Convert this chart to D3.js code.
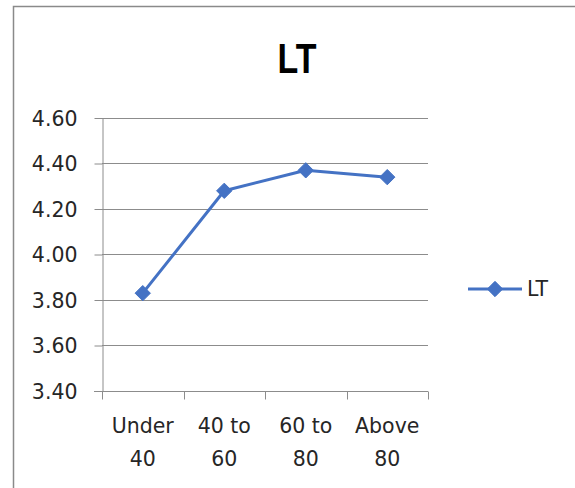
<!DOCTYPE html>
<html>
<head>
<meta charset="utf-8">
<script src="https://cdn.jsdelivr.net/npm/d3@7"></script>
<style>
  html, body { margin: 0; padding: 0; background: #fff; }
  svg { display: block; }
  text { font-family: "DejaVu Sans", sans-serif; fill: #262626; }
</style>
</head>
<body>
<svg id="chart" width="575" height="488"></svg>
<script>
// Age groups and the mean LT score for each
const categories = ["Under 40", "40 to 60", "60 to 80", "Above 80"];
const categoryLines = [["Under", "40"], ["40 to", "60"], ["60 to", "80"], ["Above", "80"]];
const ltValues = [3.83, 4.28, 4.37, 4.34];
const yTicks = [3.40, 3.60, 3.80, 4.00, 4.20, 4.40, 4.60];
const seriesName = "LT";
const chartTitle = "LT";

const svg = d3.select("#chart");
const W = 575, H = 488;
const blue = "#4472C4";
const gridColor = "#8c8c8c";

// Outer chart frame
svg.append("rect")
  .attr("x", 13.5).attr("y", 6.5)
  .attr("width", W).attr("height", H)
  .attr("fill", "none").attr("stroke", "#8a8a8a").attr("stroke-width", 1.5);

// Plot area
const plot = { left: 102, right: 428, top: 118, bottom: 391 };

const x = d3.scaleBand().domain(categories).range([plot.left, plot.right]).paddingInner(0).paddingOuter(0);
const y = d3.scaleLinear().domain([3.4, 4.6]).range([plot.bottom, plot.top]);

// Title
svg.append("text")
  .attr("x", 297).attr("y", 73)
  .attr("text-anchor", "middle")
  .attr("font-family", "Liberation Sans, Arial, sans-serif")
  .style("font-family", "'Liberation Sans', Arial, sans-serif")
  .attr("font-weight", "bold")
  .attr("font-size", 42)
  .attr("textLength", 39)
  .attr("lengthAdjust", "spacingAndGlyphs")
  .style("fill", "#000")
  .text(chartTitle);

// Horizontal gridlines
svg.append("g")
  .selectAll("line")
  .data(yTicks.slice(1))
  .join("line")
  .attr("x1", plot.left).attr("x2", plot.right)
  .attr("y1", d => Math.round(y(d)) + 0.5).attr("y2", d => Math.round(y(d)) + 0.5)
  .attr("stroke", gridColor).attr("stroke-width", 1);

// Y axis
const yAxis = svg.append("g")
  .attr("transform", `translate(${plot.left + 0.5},0)`)
  .call(d3.axisLeft(y).tickValues(yTicks).tickFormat(d3.format(".2f")).tickSizeInner(8).tickSizeOuter(0).tickPadding(17));
yAxis.select(".domain").attr("stroke", gridColor);
yAxis.selectAll(".tick line").attr("stroke", gridColor);
yAxis.selectAll(".tick text")
  .attr("font-size", 20.5)
  .style("font-family", "'DejaVu Sans', sans-serif")
  .attr("fill", "#262626")
  .attr("dy", "0.36em");

// X axis with tick marks at the category boundaries
const xAxisG = svg.append("g").attr("transform", `translate(0,${plot.bottom + 0.5})`);
xAxisG.append("line")
  .attr("x1", plot.left - 8).attr("x2", plot.right)
  .attr("stroke", gridColor);
const boundaries = categories.map(c => x(c)).concat([x(categories[categories.length - 1]) + x.bandwidth()]);
xAxisG.selectAll("line.tk")
  .data(boundaries)
  .join("line")
  .attr("class", "tk")
  .attr("x1", d => Math.round(d) + 0.5).attr("x2", d => Math.round(d) + 0.5)
  .attr("y1", 0).attr("y2", 8)
  .attr("stroke", gridColor);

// Category labels (two lines each)
const catLabels = svg.append("g")
  .selectAll("text")
  .data(categories)
  .join("text")
  .attr("text-anchor", "middle")
  .attr("font-size", 20.5)
  .attr("x", d => x(d) + x.bandwidth() / 2);
catLabels.each(function(d, i) {
  const t = d3.select(this);
  categoryLines[i].forEach((line, j) => {
    t.append("tspan")
      .attr("x", x(d) + x.bandwidth() / 2)
      .attr("y", 433 + j * 33)
      .text(line);
  });
});

// Series line
const line = d3.line()
  .x((d, i) => x(categories[i]) + x.bandwidth() / 2)
  .y(d => y(d));
svg.append("path")
  .datum(ltValues)
  .attr("d", line)
  .attr("fill", "none")
  .attr("stroke", blue)
  .attr("stroke-width", 3)
  .attr("stroke-linejoin", "round");

// Diamond markers
const diamond = d3.symbol().type(d3.symbolDiamond2).size(150);
svg.append("g")
  .selectAll("path")
  .data(ltValues)
  .join("path")
  .attr("d", diamond)
  .attr("transform", (d, i) => `translate(${x(categories[i]) + x.bandwidth() / 2},${y(d)})`)
  .attr("fill", blue)
  .attr("stroke", blue)
  .attr("stroke-width", 1);

// Legend
const legend = svg.append("g").attr("transform", "translate(468,289)");
legend.append("line")
  .attr("x1", 0).attr("x2", 54)
  .attr("y1", 0).attr("y2", 0)
  .attr("stroke", blue).attr("stroke-width", 3);
legend.append("path")
  .attr("d", diamond)
  .attr("transform", "translate(27,0)")
  .attr("fill", blue).attr("stroke", blue).attr("stroke-width", 1);
legend.append("text")
  .attr("x", 59).attr("y", 0)
  .attr("dy", "0.36em")
  .attr("font-size", 20.5)
  .text(seriesName);
</script>
</body>
</html>
